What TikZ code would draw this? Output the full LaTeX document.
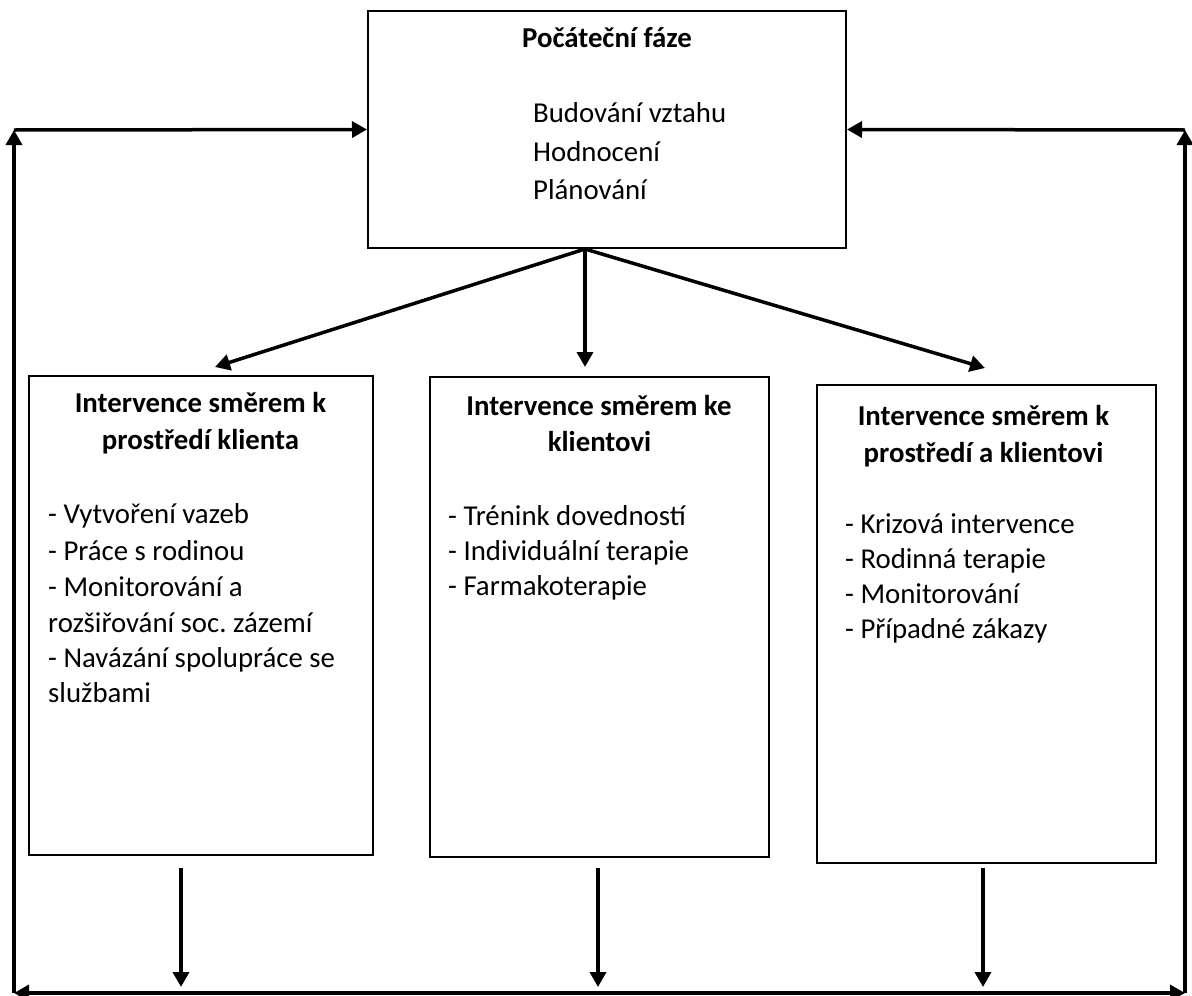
\documentclass[tikz,border=0pt]{standalone}
\usepackage{fontspec}
\setmainfont{Carlito}
\usetikzlibrary{arrows.meta}
\begin{document}
\begin{tikzpicture}[x=1pt,y=1pt,
  box/.style={draw=black,line width=2pt},
  txt/.style={font=\fontsize{28.8}{36}\selectfont},
  conn/.style={line width=3.5pt,-{Triangle[length=15pt,width=16pt]}},
  both/.style={line width=3.5pt,{Triangle[length=15pt,width=16pt]}-{Triangle[length=15pt,width=16pt]}}]
\tikzstyle{every node}+=[inner sep=0pt]
\useasboundingbox (0,0) rectangle (1192,-996);
% boxes
\node [box,minimum width=478pt,minimum height=237pt] (phase) at (607,-129.5) {};
\node [box,minimum width=344pt,minimum height=479pt] (envbox) at (201,-615.5) {};
\node [box,minimum width=339pt,minimum height=480pt] (clientbox) at (599.5,-617) {};
\node [box,minimum width=339pt,minimum height=478pt] (mixbox) at (986.5,-624) {};
% texts
\node [txt,anchor=base] (phasehead) at (607,-47) {\textbf{Počáteční fáze}};
\node [txt,anchor=base west] (phase1) at (533,-122) {Budování vztahu};
\node [txt,anchor=base west] (phase2) at (533,-161) {Hodnocení};
\node [txt,anchor=base west] (phase3) at (533,-199) {Plánování};
\node [txt,anchor=base] (envhead1) at (200.5,-412) {\textbf{Intervence směrem k}};
\node [txt,anchor=base] (envhead2) at (200.5,-449) {\textbf{prostředí klienta}};
\node [txt,anchor=base west] (env1) at (48,-523) {- Vytvoření vazeb};
\node [txt,anchor=base west] (env2) at (48,-560) {- Práce s rodinou};
\node [txt,anchor=base west] (env3) at (48,-596) {- Monitorování a};
\node [txt,anchor=base west] (env4) at (48,-632) {rozšiřování soc.\ zázemí};
\node [txt,anchor=base west] (env5) at (48,-667) {- Navázání spolupráce se};
\node [txt,anchor=base west] (env6) at (48,-702) {službami};
\node [txt,anchor=base] (clienthead1) at (599,-415) {\textbf{Intervence směrem ke}};
\node [txt,anchor=base] (clienthead2) at (599.5,-451) {\textbf{klientovi}};
\node [txt,anchor=base west] (client1) at (448,-525) {- Trénink dovedností};
\node [txt,anchor=base west] (client2) at (448,-560) {- Individuální terapie};
\node [txt,anchor=base west] (client3) at (448,-595) {- Farmakoterapie};
\node [txt,anchor=base] (mixhead1) at (983.5,-425) {\textbf{Intervence směrem k}};
\node [txt,anchor=base] (mixhead2) at (983.5,-462) {\textbf{prostředí a klientovi}};
\node [txt,anchor=base west] (mix1) at (845,-533) {- Krizová intervence};
\node [txt,anchor=base west] (mix2) at (845,-568) {- Rodinná terapie};
\node [txt,anchor=base west] (mix3) at (845,-603) {- Monitorování};
\node [txt,anchor=base west] (mix4) at (845,-638) {- Případné zákazy};
% connector points
\coordinate (fork) at ([xshift=-22pt]phase.south);
\coordinate (envtop) at (215,-367);
\coordinate (clienttop) at (585,-367);
\coordinate (mixtop) at (985,-368);
\coordinate (envout) at (181,-868);
\coordinate (envend) at (181,-987);
\coordinate (clientout) at (598,-868);
\coordinate (clientend) at (598,-987);
\coordinate (mixout) at (983,-868);
\coordinate (mixend) at (983,-987);
\coordinate (bl) at (14,-993);
\coordinate (tl) at (14,-130);
\coordinate (br) at (1185,-993);
\coordinate (tr) at (1185,-130);
% arrows
\draw [conn] (fork) -- (envtop);
\draw [conn] (fork) -- (clienttop);
\draw [conn] (fork) -- (mixtop);
\draw [conn] (envout) -- (envend);
\draw [conn] (clientout) -- (clientend);
\draw [conn] (mixout) -- (mixend);
\draw [both] (bl) -- (br);
\draw [conn] (bl) -- (tl);
\draw [conn] (br) -- (tr);
\draw [conn] (tl) -- (phase.west);
\draw [conn] (tr) -- (phase.east);
\end{tikzpicture}
\end{document}
